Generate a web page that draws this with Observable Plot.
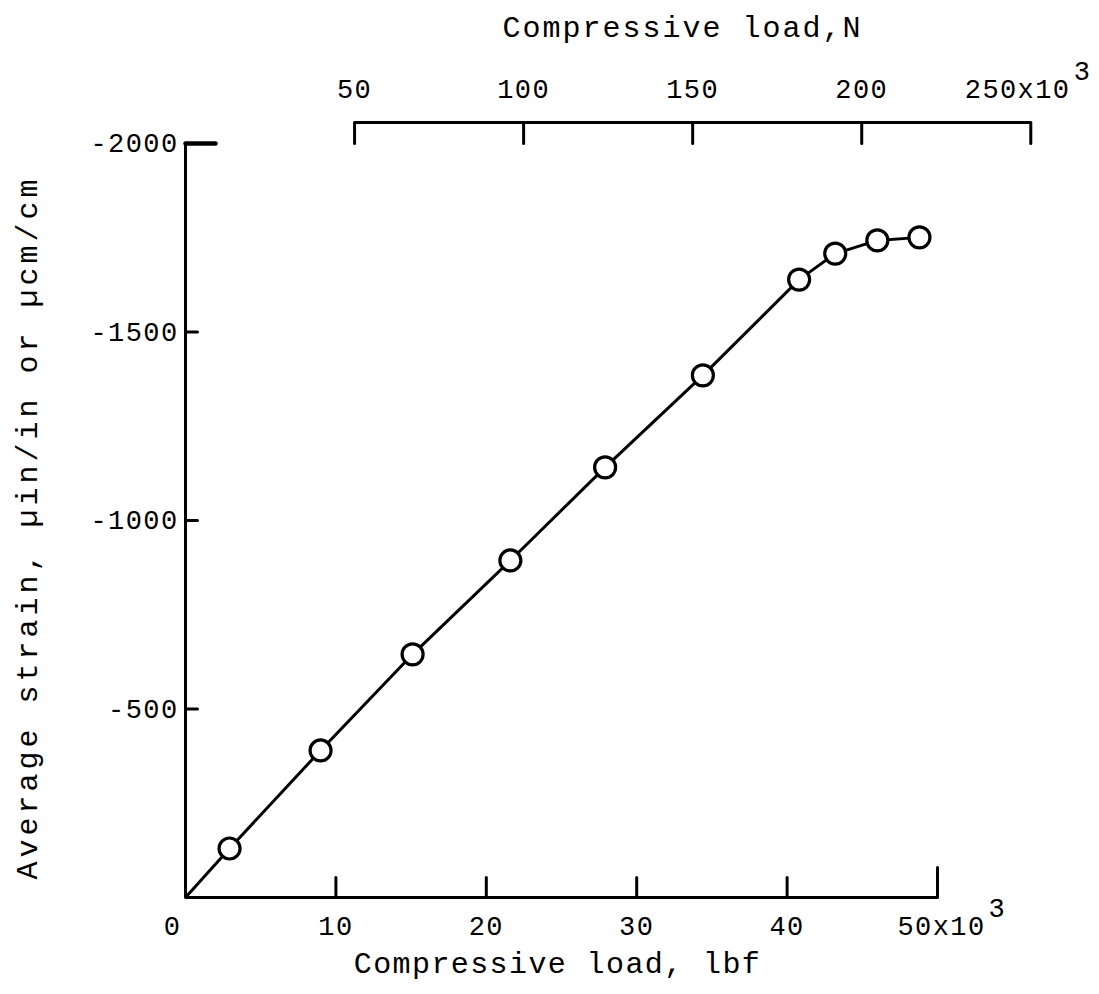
<!DOCTYPE html>
<html><head><meta charset="utf-8">
<script src="https://cdn.jsdelivr.net/npm/d3@7"></script>
<script src="https://cdn.jsdelivr.net/npm/@observablehq/plot@0.6"></script>
<style>
body{margin:0;background:#fff;}
#chart svg{font-family:'Liberation Mono','Courier New',monospace;}
g[aria-description="ticklabels"] text{letter-spacing:1.4px;}
g[aria-description="xtitle"] text{letter-spacing:1.4px;}
g[aria-description="toptitle"] text{letter-spacing:2px;}
g[aria-description="ytitle"] text{letter-spacing:4px;}
</style></head><body><div id="chart"></div>
<script>
// Data (load in 10^3 lbf, strain in µin/in)
const loadKlbf = [0, 2.93, 8.98, 15.1, 21.6, 27.9, 34.4, 40.8, 43.2, 46.0, 48.8];
const strain   = [0, -130, -390, -645, -894, -1141, -1385, -1639, -1708, -1743, -1751];
const hasMarker = [false, true, true, true, true, true, true, true, true, true, true];

// Tick values and labels
const lbfTicks = [10, 20, 30, 40];
const lbfTickLabels = ["10", "20", "30", "40"];
const lbfZeroLabel = "0";
const lbfEndTick = 50;
const lbfEndLabel = "50x10";
const strainTicks = [-500, -1000, -1500];
const strainTickLabels = ["-500", "-1000", "-1500"];
const strainTopTick = -2000;
const strainTopLabel = "-2000";
const newtonTicks = [50, 100, 150, 200];
const newtonTickLabels = ["50", "100", "150", "200"];
const newtonEndTick = 250;
const newtonEndLabel = "250x10";
const exponentLabel = "3";
const N_PER_LBF = 4.44822;

const xTitle = "Compressive load, lbf";
const topTitle = "Compressive load,N";
const yTitle = "Average strain, µin/in or µcm/cm";

const points = loadKlbf.map((x, i) => ({x, y: strain[i], marker: hasMarker[i]}));
const toLbf = n => n / N_PER_LBF;

const tickShape = {draw(context, l) { context.moveTo(0, 0); context.lineTo(0, -l); }};
const font = 27;
const sw = 3;
const lbl = {fontSize: font, lineAnchor: "middle", ariaDescription: "ticklabels"};

const chart = Plot.plot({
  width: 1099, height: 994,
  marginLeft: 185, marginRight: 162, marginTop: 143, marginBottom: 97,
  x: {domain: [0, 50], axis: null},
  y: {domain: [0, -2000], axis: null},
  marks: [
    // axis lines
    Plot.ruleY([0], {x1: 0, x2: lbfEndTick, strokeWidth: sw}),
    Plot.ruleX([0], {y1: 0, y2: strainTopTick, strokeWidth: sw}),
    Plot.ruleY([strainTopTick], {x1: toLbf(newtonTicks[0]), x2: toLbf(newtonEndTick), dy: -21, strokeWidth: sw}),
    // bottom ticks (inward)
    Plot.vector(lbfTicks, {x: d => d, y: () => 0, length: 20, rotate: 0, anchor: "start", shape: tickShape, strokeWidth: sw}),
    Plot.vector([lbfEndTick], {x: d => d, y: () => 0, length: 30, rotate: 0, anchor: "start", shape: tickShape, strokeWidth: sw}),
    // left ticks (inward)
    Plot.vector(strainTicks, {x: () => 0, y: d => d, length: 12, rotate: 90, anchor: "start", shape: tickShape, strokeWidth: sw}),
    Plot.vector([strainTopTick], {x: () => 0, y: d => d, length: 30, rotate: 90, anchor: "start", shape: tickShape, strokeWidth: 4.5}),
    // top ticks (hanging from top line)
    Plot.vector([...newtonTicks, newtonEndTick], {x: d => toLbf(d), y: () => strainTopTick, length: 21, rotate: 0, anchor: "start", shape: tickShape, strokeWidth: sw}),
    // tick labels
    Plot.text(lbfTicks, {x: d => d, frameAnchor: "bottom", dy: 29, text: (d, i) => lbfTickLabels[i], ...lbl}),
    Plot.text([lbfZeroLabel], {x: () => 0, frameAnchor: "bottom", dy: 29, dx: -13, text: d => d, ...lbl}),
    Plot.text([lbfEndLabel], {x: () => lbfEndTick, frameAnchor: "bottom", dy: 29, dx: -40, textAnchor: "start", text: d => d, ...lbl}),
    Plot.text([exponentLabel], {x: () => lbfEndTick, frameAnchor: "bottom", dy: 11, dx: 51, textAnchor: "start", text: d => d, ...lbl}),
    Plot.text(strainTicks, {y: d => d, frameAnchor: "left", dx: -7, textAnchor: "end", text: (d, i) => strainTickLabels[i], ...lbl}),
    Plot.text([strainTopLabel], {y: () => strainTopTick, frameAnchor: "left", dx: -7, textAnchor: "end", text: d => d, ...lbl}),
    Plot.text(newtonTicks, {x: d => toLbf(d), frameAnchor: "top", dy: -54, text: (d, i) => newtonTickLabels[i], ...lbl}),
    Plot.text([newtonEndLabel], {x: () => toLbf(newtonEndTick), frameAnchor: "top", dy: -54, dx: -66, textAnchor: "start", text: d => d, ...lbl}),
    Plot.text([exponentLabel], {x: () => toLbf(newtonEndTick), frameAnchor: "top", dy: -72, dx: 43, textAnchor: "start", text: d => d, ...lbl}),
    // titles
    Plot.text([xTitle], {frameAnchor: "bottom", dy: 66, dx: -4, text: d => d, fontSize: 30, lineAnchor: "middle", ariaDescription: "xtitle"}),
    Plot.text([topTitle], {frameAnchor: "top", dy: -116, dx: 121, text: d => d, fontSize: 30, lineAnchor: "middle", ariaDescription: "toptitle"}),
    Plot.text([yTitle], {frameAnchor: "left", rotate: -90, dx: -158, dy: 7, text: d => d, fontSize: 30, textAnchor: "middle", lineAnchor: "middle", ariaDescription: "ytitle"}),
    // data
    Plot.line(points, {x: "x", y: "y", stroke: "black", strokeWidth: 3}),
    Plot.dot(points.filter(d => d.marker), {x: "x", y: "y", r: 10.5, fill: "white", stroke: "black", strokeWidth: 3.2})
  ]
});
document.getElementById("chart").appendChild(chart);
</script></body></html>
